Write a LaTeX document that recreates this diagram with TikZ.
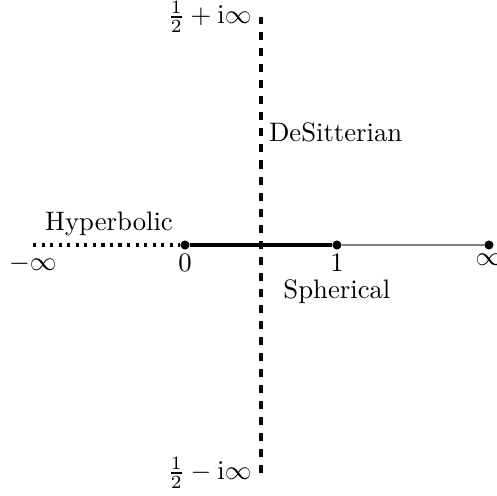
\documentclass[tikz,border=0pt]{standalone}
\usepackage{amsmath}
\usepackage{amssymb}
\usetikzlibrary{positioning}

\tikzset{
  pt/.style={circle, fill=black, inner sep=0pt, minimum size=3.4pt},
  region/.style={font=\normalsize}
}

\begin{document}
\begin{tikzpicture}[x=2cm, y=2cm]
    \useasboundingbox (-1.217,-1.645) rectangle (2.053,1.612);

    % Real axis points
    \node[pt] (zero) at (0,0) {};
    \node[pt] (one) at (1,0) {};
    \node[pt] (inf) at (2,0) {};
    \coordinate (minf) at (-1,0);

    % Real axis pieces
    \draw[very thick, dotted] (minf) -- (zero);
    \draw[very thick] (zero) -- (one);
    \draw[gray] (one) -- (inf);

    % Axis labels
    \node[below=0pt of minf] {$-\infty$};
    \node[below=0pt of zero.center] (lzero) {$0$};
    \node[below=0pt of one.center] (lone) {$1$};
    \node[below=0pt of inf.center] {$\infty$};

    % Line Re s = 1/2
    \coordinate (top) at (0.5,1.5);
    \coordinate (bot) at (0.5,-1.5);
    \draw[very thick, dashed] (bot) -- (top);
    \node[left] at (top) {$\frac{1}{2}+\mathrm{i}\infty$};
    \node[left] at (bot) {$\frac{1}{2}-\mathrm{i}\infty$};

    % Regions
    \node[region, below=-4pt of lone] (sph) {Spherical};
    \node[region, above] (hyp) at (-0.5,0) {Hyperbolic};
    \node[region, right=-0.5pt] (dsit) at (0.5,0.74) {DeSitterian};
\end{tikzpicture}
\end{document}
